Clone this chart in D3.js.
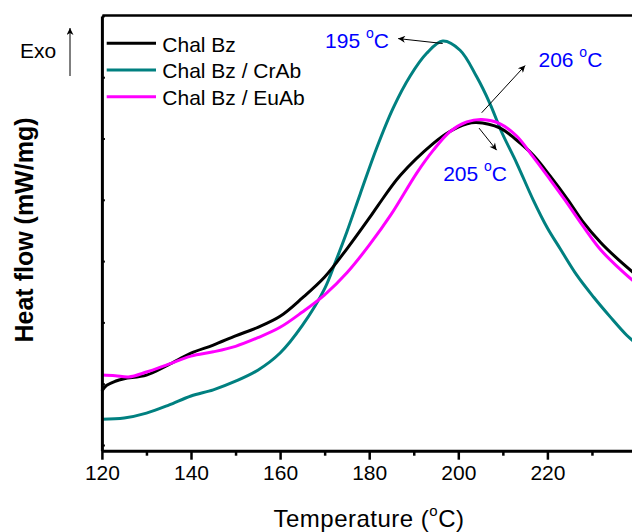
<!DOCTYPE html>
<html>
<head>
<meta charset="utf-8">
<script src="https://cdn.jsdelivr.net/npm/d3@7"></script>
<style>
  body { margin: 0; background: #fff; }
  svg { display: block; font-family: "Liberation Sans", Arial, sans-serif; }
</style>
</head>
<body>
<div id="chart"></div>
<script>
// DSC curves (heat flow, arbitrary units)
const bzTemp = [120,121,123,125,130,135,140,145,150,155,160,165,170,175,180,182,187,194.4,198,202,204,209.4,213,216.8,220.6,224.6,228,232,236,240];
const bzFlow = [0.88,0.97,1.04,1.08,1.14,1.31,1.50,1.63,1.78,1.92,2.10,2.40,2.74,3.20,3.70,3.91,4.40,4.92,5.11,5.24,5.26,5.17,4.98,4.73,4.39,4.00,3.64,3.30,3.02,2.77];

const crTemp = [120,125,130,135,140,145,150,155,160,165,170,172.5,175,178,181.7,185.4,189.2,192.9,196.5,200.4,204.1,207.1,209.7,213.1,216.8,220,222.8,226.6,230.4,234.1,237.8,240];
const crFlow = [0.42,0.44,0.52,0.65,0.80,0.90,1.04,1.22,1.50,1.95,2.55,3.00,3.48,4.10,4.85,5.50,6.02,6.39,6.59,6.44,6.01,5.57,5.11,4.60,4.00,3.54,3.21,2.77,2.41,2.09,1.79,1.65];

const euTemp = [120,123,126,130,135,140,145,150,155,160,165,170,175,180,185,190.7,194.4,198.1,201.9,205.3,209.4,213.1,216.8,220.6,224,228,232,236,240];
const euFlow = [1.14,1.13,1.11,1.19,1.32,1.45,1.52,1.61,1.75,1.92,2.17,2.45,2.81,3.26,3.77,4.44,4.81,5.11,5.27,5.31,5.24,5.04,4.70,4.33,3.99,3.57,3.18,2.89,2.63];

const seriesNames = ["Chal Bz", "Chal Bz / CrAb", "Chal Bz / EuAb"];
const seriesColors = ["#000000", "#008080", "#ff00ff"];

const xMajor = [120,140,160,180,200,220];
const xMinor = [130,150,170,190,210,230];
const yTicks = [0,1,2,3,4,5,6,7];

// peak labels: text anchor point, arrow from -> to (temperature, flow)
const peakText = ["195", "206", "205"];
const peakLabelAt = [[170.1,6.47],[218.0,6.17],[196.6,4.30]];
const peakArrow = [
  [[196.5,6.55],[186.5,6.63]],
  [[205.25,5.42],[215.0,6.19]],
  [[204.65,5.17],[208.6,4.81]]
];

const width = 632, height = 532;
const x = d3.scaleLinear([120, 240], [101.9, 636.5]);
const y = d3.scaleLinear([-0.093, 7], [450.7, 15.9]);

const svg = d3.select("#chart").append("svg")
    .attr("width", width)
    .attr("height", height);

const defs = svg.append("defs");
defs.append("marker")
    .attr("id", "arrow")
    .attr("viewBox", "0 0 10 10")
    .attr("refX", 10).attr("refY", 5)
    .attr("markerWidth", 10).attr("markerHeight", 7)
    .attr("markerUnits", "userSpaceOnUse")
    .attr("orient", "auto")
  .append("path")
    .attr("d", "M0,0L10,5L0,10L3,5Z")
    .attr("fill", "#000");

// curves
const series = [
  {T: bzTemp, F: bzFlow},
  {T: crTemp, F: crFlow},
  {T: euTemp, F: euFlow}
];
const line = d3.line()
    .x(d => x(d[0]))
    .y(d => y(d[1]))
    .curve(d3.curveCatmullRom.alpha(0.5));

// draw CrAb first, then Chal Bz, then EuAb on top
[1, 0, 2].forEach(i => {
  const pts = d3.zip(series[i].T, series[i].F);
  svg.append("path")
      .datum(pts)
      .attr("fill", "none")
      .attr("stroke", seriesColors[i])
      .attr("stroke-width", 3)
      .attr("d", line);
});

// axes
svg.append("g")
    .attr("transform", `translate(0,${y.range()[0]})`)
    .call(d3.axisBottom(x).tickValues(xMinor).tickSize(5).tickSizeOuter(0).tickFormat(""))
    .call(g => g.select(".domain").remove())
    .call(g => g.selectAll(".tick line").attr("stroke-width", 2.5));

svg.append("g")
    .attr("transform", `translate(0,${y.range()[0]})`)
    .call(d3.axisBottom(x).tickValues(xMajor).tickSize(9).tickSizeOuter(0).tickPadding(5))
    .call(g => g.select(".domain").attr("stroke-width", 3))
    .call(g => g.selectAll(".tick line").attr("stroke-width", 2.5))
    .call(g => g.selectAll(".tick text")
        .attr("font-size", 21)
        .attr("fill", "#000")
        .attr("font-family", "Liberation Sans, Arial, sans-serif"));

svg.append("g")
    .attr("transform", `translate(${x.range()[0]},0)`)
    .call(d3.axisLeft(y).tickValues(yTicks).tickSize(-3).tickSizeOuter(0).tickFormat(""))
    .call(g => g.select(".domain").attr("stroke-width", 3))
    .call(g => g.selectAll(".tick line").attr("stroke-width", 2));

svg.append("g")
    .attr("transform", `translate(0,${y.range()[1] - 0.9})`)
    .call(d3.axisTop(x).tickValues([]).tickSizeOuter(0))
    .call(g => g.select(".domain").attr("stroke-width", 2.5));

// axis titles
const xt = svg.append("text")
    .attr("x", 369).attr("y", 526.7)
    .attr("text-anchor", "middle")
    .attr("font-size", 24)
    .attr("letter-spacing", 0.5);
xt.append("tspan").text("Temperature (");
xt.append("tspan").attr("font-size", 15).attr("dy", -11).text("o");
xt.append("tspan").attr("dy", 11).text("C)");

svg.append("text")
    .attr("transform", "translate(33.3,230) rotate(-90)")
    .attr("text-anchor", "middle")
    .attr("font-size", 25)
    .attr("font-weight", "bold")
    .text("Heat flow (mW/mg)");

// Exo marker
svg.append("text")
    .attr("x", 20).attr("y", 58.3)
    .attr("font-size", 21)
    .text("Exo");
svg.append("line")
    .attr("x1", 70).attr("x2", 70)
    .attr("y1", 76).attr("y2", 28)
    .attr("stroke", "#000").attr("stroke-width", 1)
    .attr("marker-end", "url(#arrow)");

// legend
const legend = svg.append("g");
seriesNames.forEach((name, i) => {
  const ly = 43.3 + i * 26.7;
  legend.append("line")
      .attr("x1", 106.7).attr("x2", 156)
      .attr("y1", ly).attr("y2", ly)
      .attr("stroke", seriesColors[i])
      .attr("stroke-width", 3);
  legend.append("text")
      .attr("x", 162.3).attr("y", ly + 8.3)
      .attr("font-size", 21)
      .text(name);
});

// peak annotations
peakText.forEach((t, i) => {
  const a = peakArrow[i];
  svg.append("line")
      .attr("x1", x(a[0][0])).attr("y1", y(a[0][1]))
      .attr("x2", x(a[1][0])).attr("y2", y(a[1][1]))
      .attr("stroke", "#000").attr("stroke-width", 1)
      .attr("marker-end", "url(#arrow)");
  const lbl = svg.append("text")
      .attr("x", x(peakLabelAt[i][0]))
      .attr("y", y(peakLabelAt[i][1]))
      .attr("font-size", 21)
      .attr("fill", "#0000ff");
  lbl.append("tspan").text(t + " ");
  lbl.append("tspan").attr("font-size", 14).attr("dy", -10).text("o");
  lbl.append("tspan").attr("dy", 10).text("C");
});
</script>
</body>
</html>
